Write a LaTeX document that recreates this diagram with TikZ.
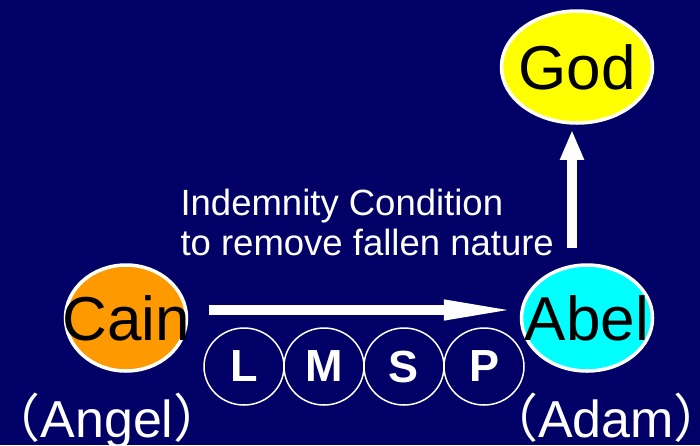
\documentclass[tikz,border=0pt]{standalone}
\usepackage{fontspec}
\setmainfont{Liberation Sans}
\newfontfamily\cjk{Noto Sans CJK SC}
\usetikzlibrary{arrows.meta,shapes.geometric}
\definecolor{slidenavy}{HTML}{000066}
\definecolor{cainorange}{HTML}{FF9900}
\definecolor{abelcyan}{HTML}{00FFFF}
\definecolor{godyellow}{HTML}{FFFF00}
\tikzset{
  figure/.style={ellipse,draw=white,line width=3.5pt,inner sep=0pt},
  bigname/.style={text=black,font=\fontsize{62}{62}\selectfont},
  bigarrow/.style={white,line width=10pt},
  letterdisk/.style={ellipse,draw=white,line width=1.5pt,minimum width=80pt,minimum height=77pt,
    inner sep=0pt,text=white,font=\fontsize{45}{45}\selectfont\bfseries},
  caption/.style={text=white,align=left,font=\fontsize{36.5}{40}\selectfont},
  rolename/.style={text=white,font=\fontsize{52}{52}\selectfont}
}

\begin{document}
\begin{tikzpicture}[x=1pt,y=-1pt]
\fill[slidenavy] (0,0) rectangle (700,445);
\useasboundingbox (0,0) rectangle (700,445);
% the three figures
\node[figure,fill=godyellow,minimum width=151pt,minimum height=112pt,
  label={[bigname]center:God}] (god) at (577,67) {};
\node[figure,fill=cainorange,minimum width=121pt,minimum height=106pt,
  label={[bigname]center:Cain}] (cain) at (126,318) {};
\node[figure,fill=abelcyan,minimum width=131pt,minimum height=106pt,
  label={[bigname]center:Abel}] (abel) at (587,318) {};
% arrows
\draw[bigarrow,-{Triangle[length=76pt,width=18pt]},shorten <=21pt,shorten >=0pt]
  ([yshift=8pt]cain.east) -- ([yshift=8pt]abel.west);
\draw[bigarrow,-{Triangle[length=30pt,width=22pt]},shorten <=15pt,shorten >=5pt]
  ([xshift=-15pt]abel.north) -- ([xshift=-5pt]god.south);
% condition text
\node[caption,anchor=base west] (cond) at (177,255) {Indemnity Condition\\to remove fallen nature};
% L M S P
\foreach \t [count=\i] in {L,M,S,P}
  \node[letterdisk] (step\t) at (164+80*\i,366.5) {\t};
% roles
\node[rolename,anchor=base] (angel) at (107,437) {{\cjk（}Angel{\cjk）}};
\node[rolename,anchor=base] (adam) at (606,437) {{\cjk（}Adam{\cjk）}};
\end{tikzpicture}
\end{document}
